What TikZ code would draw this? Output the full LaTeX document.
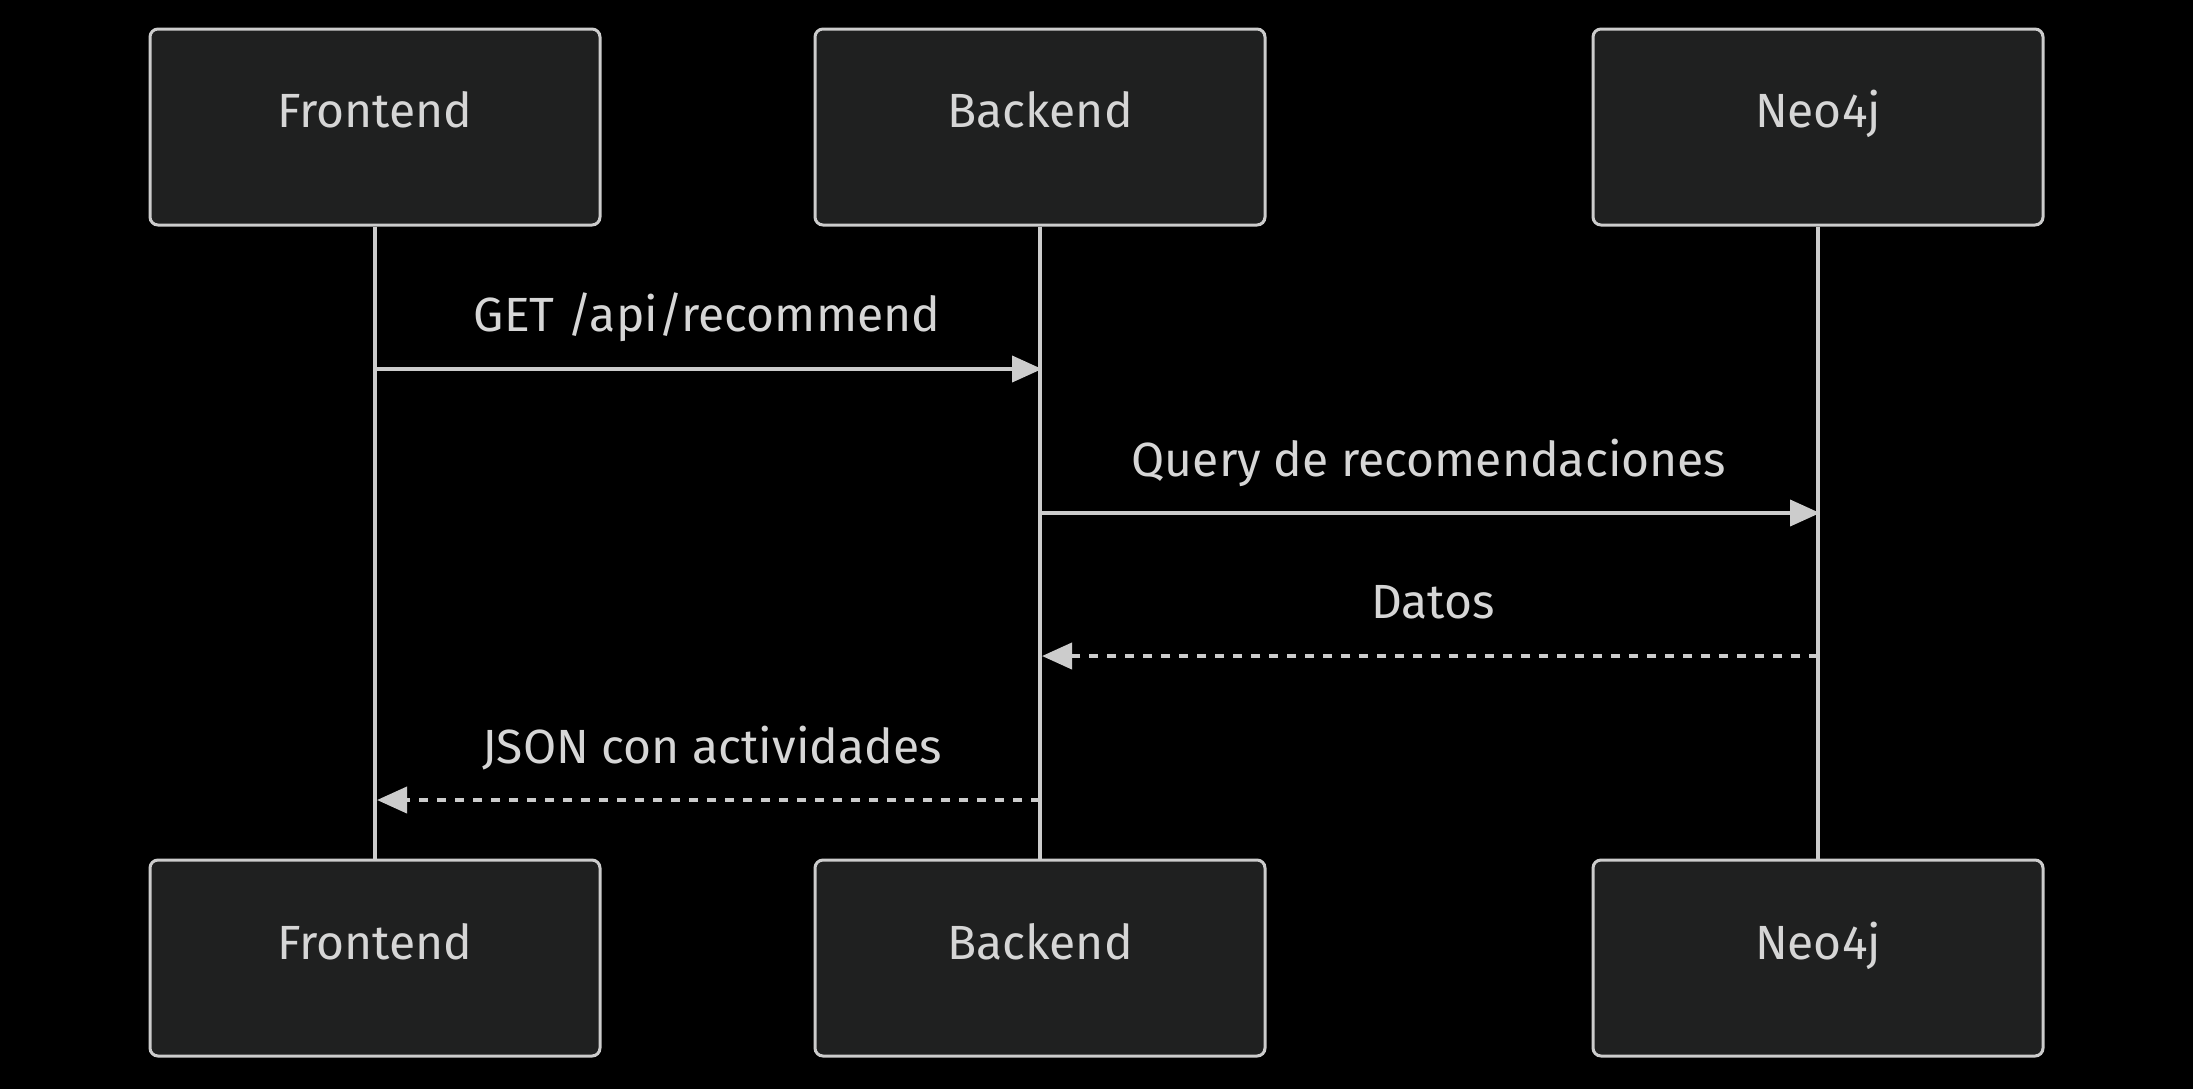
\documentclass[tikz,border=0pt]{standalone}
\usepackage{fontspec}
\setmainfont{Fira Sans}
\usetikzlibrary{arrows.meta}
\definecolor{boxfill}{HTML}{1F2020}
\definecolor{linec}{HTML}{CCCCCC}
\definecolor{textc}{HTML}{D6D6D6}
\begin{document}
\begin{tikzpicture}[x=0.5pt,y=-0.5pt,
  actor/.style={draw=linec, line width=1.5pt, fill=boxfill, rounded corners=4pt,
    minimum width=225pt, minimum height=98pt, inner sep=0pt},
  atext/.style={text=textc, font=\fontsize{24}{27}\selectfont, inner sep=0pt, anchor=base},
  mtext/.style={text=textc, font=\fontsize{24}{27}\selectfont, inner sep=0pt, anchor=base},
  life/.style={draw=linec, line width=2pt},
  msg/.style={draw=linec, line width=2pt, -{Triangle[length=15pt,width=13pt]}, color=linec},
  reply/.style={msg, dash pattern=on 4.5pt off 4.5pt}]
\useasboundingbox[fill=black] (0,0) rectangle (2193,1089);
% top actors
\node[actor] (fT) at (375,127) {};
\node[actor] (bT) at (1040,127) {};
\node[actor] (nT) at (1818,127) {};
% bottom actors
\node[actor] (fB) at (375,958) {};
\node[actor] (bB) at (1040,958) {};
\node[actor] (nB) at (1818,958) {};
% lifelines
\draw[life] (fT.south) -- (fB.north);
\draw[life] (bT.south) -- (bB.north);
\draw[life] (nT.south) -- (nB.north);
% actor texts
\node[atext] (fTt) at (375,127) {Frontend};
\node[atext] (bTt) at (1040,127) {Backend};
\node[atext] (nTt) at (1818,127) {Neo4j};
\node[atext] (fBt) at (375,959) {Frontend};
\node[atext] (bBt) at (1040,959) {Backend};
\node[atext] (nBt) at (1818,959) {Neo4j};
% message coordinates
\coordinate (m1a) at (375,369);  \coordinate (m1b) at (1042,369);
\coordinate (m2a) at (1040,513); \coordinate (m2b) at (1820,513);
\coordinate (m3a) at (1818,656); \coordinate (m3b) at (1042,656);
\coordinate (m4a) at (1040,800); \coordinate (m4b) at (377,800);
\draw[msg] (m1a) -- (m1b);
\draw[msg] (m2a) -- (m2b);
\draw[reply] (m3a) -- (m3b);
\draw[reply] (m4a) -- (m4b);
\node[mtext] (l1) at (707,331) {GET /api/recommend};
\node[mtext] (l2) at (1429,476) {Query de recomendaciones};
\node[mtext] (l3) at (1433,618) {Datos};
\node[mtext] (l4) at (712,763) {JSON con actividades};
\end{tikzpicture}
\end{document}
